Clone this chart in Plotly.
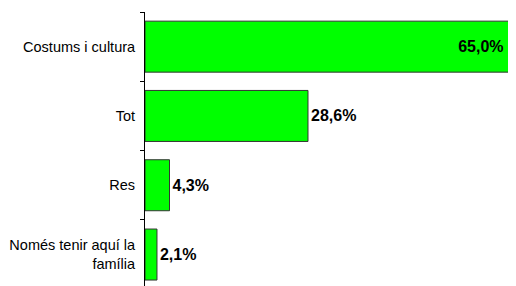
import plotly.graph_objects as go

categories = ["Costums i cultura", "Tot", "Res", "Només tenir aquí la<br>família"]
values = [65.0, 28.6, 4.3, 2.1]
labels = ["65,0%", "28,6%", "4,3%", "2,1%"]

texts = [l + "\u00a0\u00a0" if v > 50 else l for l, v in zip(labels, values)]
positions = ["inside" if v > 50 else "outside" for v in values]

fig = go.Figure(go.Bar(
    y=categories, x=values, orientation="h",
    marker=dict(color="#00FF00", line=dict(color="#333333", width=1)),
    text=texts, textposition=positions, insidetextanchor="end",
    textfont=dict(family="Liberation Sans, Arial", size=16, color="black", weight="bold"),
    cliponaxis=False,
))

# page body has an 8px default margin, so the figure is sized to fit the window
fig.update_layout(
    template="none",
    width=508, height=278,
    margin=dict(l=137, r=0, t=4, b=0, pad=0),
    paper_bgcolor="white", plot_bgcolor="white",
    bargap=0.264,
    showlegend=False,
    font=dict(family="Liberation Sans, Arial", size=14.5, color="black"),
    xaxis=dict(range=[0, 65.1], visible=False, showgrid=False, zeroline=False, automargin=False),
    yaxis=dict(
        type="category", categoryorder="array", categoryarray=categories,
        range=[3.454, -0.5], automargin=False,
        showline=True, linecolor="black", linewidth=1,
        ticks="outside", ticklen=4, tickcolor="black", tickson="boundaries",
        ticklabelstandoff=6, showgrid=False, zeroline=False,
    ),
)

fig.write_html("out.html")
